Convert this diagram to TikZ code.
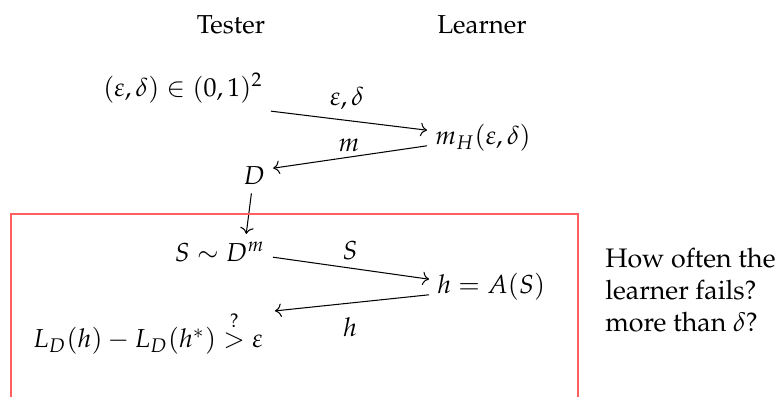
\documentclass[tikz,border=0pt]{standalone}
\usepackage[T1]{fontenc}
\usepackage{amsmath}
\usepackage{amssymb}
\usepackage{mathpazo}
\usepackage{xcolor}
\usepackage{tikz}
\usetikzlibrary{arrows.meta}
\definecolor{boxred}{RGB}{255, 95, 95}

\begin{document}
\begin{tikzpicture}[x=0.385pt, y=-0.385pt,
  lbl/.style={inner sep=3pt},
  flow/.style={->}]
\clip (0,0) rectangle (779,397);
\useasboundingbox (0,0) rectangle (779,397);
% column heads
\node[lbl] (tester) at (231,25) {Tester};
\node[lbl] (learner) at (482,25) {Learner};
% first round: accuracy and sample size
\node[lbl, anchor=east] (acc) at (271,88) {$(\varepsilon,\delta) \in (0,1)^2$};
\node[lbl, anchor=west] (mh) at (427,138) {$m_H(\varepsilon,\delta)$};
\node[lbl] (dist) at (254,176) {$D$};
\draw[flow] (acc.south east) -- ([yshift=3pt]mh.west);
\draw[flow] ([yshift=-3pt]mh.west) -- ([yshift=3pt]dist.east);
\node[lbl] (epsdel) at (347,98) {$\varepsilon,\delta$};
\node[lbl] (mlab) at (349,145) {$m$};
% second round: sample and hypothesis
\node[lbl, anchor=east] (samp) at (273,252) {$S \sim D^m$};
\node[lbl, anchor=west] (hyp) at (429,287) {$h = A(S)$};
\node[lbl, anchor=east] (loss) at (271,333)
  {$L_D(h) - L_D(h^*) \stackrel{?}{>} \varepsilon$};
\draw[flow] ([xshift=-1pt]dist.south) -- ([xshift=-3pt]dist.south |- samp.north);
\draw[flow] ([yshift=-2pt]samp.east) -- ([yshift=3pt]hyp.west);
\draw[flow] ([yshift=-3pt]hyp.west) -- ([xshift=1.5pt, yshift=8.5pt]loss.east);
\node[lbl] (slab) at (350,251) {$S$};
\node[lbl] (hlab) at (350,327) {$h$};
% repeated part
\node[draw=boxred, line width=0.6pt, minimum width=567*0.385pt,
  minimum height=220*0.385pt, anchor=north west, inner sep=0pt]
  (rep) at (10,213) {};
\node[lbl, anchor=west, align=left, font=\fontsize{10.3}{12.4}\selectfont]
  (ask) at (597,290) {How often the\\learner fails?\\more than $\delta$?};
\end{tikzpicture}
\end{document}
